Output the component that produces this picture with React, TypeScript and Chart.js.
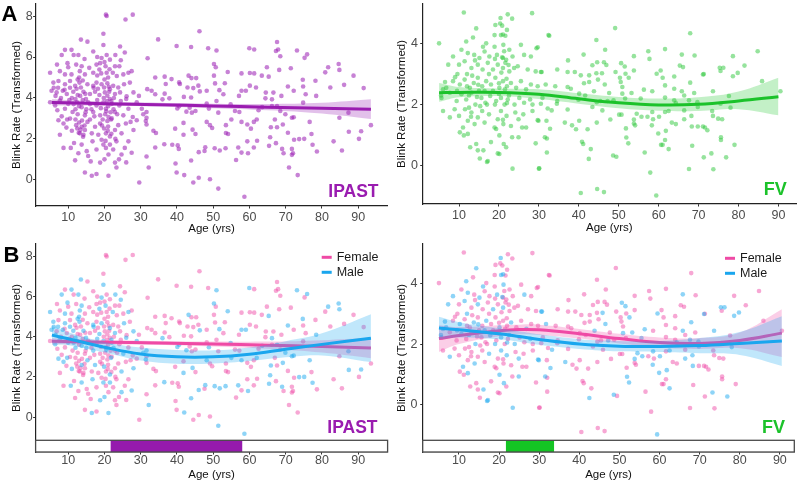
import { useEffect, useRef } from "react";
import { Chart, registerables } from "chart.js";
Chart.register(...registerables);

const FONT = "'Liberation Sans', Arial, Helvetica, sans-serif";

// ---------- labels / ticks ----------
const xTickValues = [10, 20, 30, 40, 50, 60, 70, 80, 90];
const ipastYTicks = [0, 2, 4, 6, 8];
const fvYTicks = [0, 2, 4];
const yTitle = "Blink Rate (Transformed)";
const xTitle = "Age (yrs)";
const sexLabels = ["Female", "Male"];
const ipastStrip = [21.7, 58];
const fvStrip = [21.7, 33.7];

// ---------- IPAST points [age, rate] ----------
const ipastFemale: number[][] = [
  [20.4, 8.07], [20.6, 8.0], [25.8, 7.83], [27.8, 8.07], [19.7, 7.14], [15.3, 6.75], [24.3, 6.51], [9.1, 6.35], [25.6, 6.22], [16.9, 6.27],
  [20.6, 6.1], [21.5, 5.87], [18.8, 5.7], [6.9, 5.63], [12.2, 5.63], [15.8, 5.47], [17.8, 5.63], [22.9, 5.55], [24.1, 5.55], [7.7, 5.31],
  [10.9, 5.15], [14.6, 5.15], [16.9, 5.23], [20.6, 5.23], [23.4, 5.07], [25.2, 5.15], [27.5, 5.31], [7.3, 4.83], [10.5, 4.83], [11.9, 4.59],
  [13.5, 4.51], [15.3, 4.67], [17.8, 4.75], [19.9, 4.51], [20.8, 4.72], [22.4, 4.59], [23.8, 4.51], [27.0, 4.75], [6.8, 4.27], [9.6, 4.19],
  [12.6, 4.14], [16.0, 4.19], [17.4, 4.3], [20.1, 4.27], [20.8, 4.11], [24.3, 4.27], [26.1, 4.08], [5.0, 3.79], [9.1, 3.47], [11.2, 3.31],
  [12.4, 3.79], [14.6, 3.15], [15.5, 3.79], [17.8, 3.63], [18.8, 3.15], [20.4, 3.47], [21.1, 3.07], [22.9, 3.31], [24.1, 3.63], [26.6, 3.47],
  [27.8, 3.07], [30.3, 3.47], [7.7, 2.2], [10.5, 2.99], [12.2, 2.67], [12.5, 2.51], [13.2, 2.27], [14.2, 2.2], [14.6, 2.43], [16.5, 2.27],
  [18.3, 2.2], [18.8, 2.75], [20.4, 2.27], [20.8, 2.87], [22.9, 2.43], [23.8, 2.67], [25.9, 2.75], [27.2, 2.83], [28.9, 2.91], [8.7, 1.56],
  [11.6, 1.8], [15.1, 1.4], [15.5, 1.16], [17.8, 1.48], [19.2, 1.96], [20.4, 1.56], [21.1, 1.24], [22.4, 1.48], [23.3, 1.88], [25.6, 1.56],
  [26.6, 1.88], [11.9, 0.95], [14.6, 0.36], [17.8, 0.28], [22.9, 0.84], [23.3, 0.6], [29.6, -0.13], [11.0, 4.0], [13.0, 3.6], [14.0, 3.9],
  [16.0, 3.7], [19.0, 3.5], [21.0, 3.6], [21.5, 3.95], [20.0, 4.9], [21.0, 5.0], [21.2, 4.55], [14.0, 4.85], [12.0, 2.95], [13.0, 2.8],
  [14.5, 2.65], [19.5, 2.95], [21.0, 2.6], [9.5, 2.55], [16.0, 2.95], [18.0, 5.1], [10.0, 5.5], [8.0, 4.0], [24.5, 3.85], [29.5, 4.1],
  [23.0, 2.0], [12.8, 1.3], [16.2, 0.9], [24.0, 1.0], [26.0, 0.85], [18.0, 6.0], [11.5, 6.1], [14.5, 5.9], [22.0, 3.0],
  [12.9, 2.3], [13.4, 2.45], [14.1, 2.1], [13.8, 2.9], [12.6, 3.2], [14.8, 3.3], [13.3, 4.1], [12.3, 4.45], [14.7, 4.2], [19.8, 4.0],
  [20.7, 3.85], [21.3, 4.3], [20.2, 3.2], [21.7, 3.3], [19.3, 2.65], [20.9, 2.4], [21.9, 2.25], [20.3, 1.9], [19.1, 5.2], [21.4, 5.4],
  [20.0, 5.75], [17.2, 3.1], [16.4, 3.45], [18.2, 4.45], [10.3, 3.9], [9.0, 4.4], [7.0, 3.4], [8.2, 3.1], [22.6, 4.0], [23.5, 3.2],
  [34.8, 6.86], [46.2, 7.26], [31.9, 5.94], [39.9, 6.54], [43.9, 6.49], [48.6, 6.43], [61.3, 6.37], [50.7, 5.5], [57.8, 5.2], [60.1, 5.22],
  [61.3, 5.2], [63.4, 5.09], [34.0, 5.0], [36.6, 5.04], [38.5, 4.92], [40.6, 4.76], [44.0, 4.97], [45.3, 4.97], [36.9, 4.68], [40.8, 4.68],
  [42.9, 4.51], [44.5, 4.48], [45.9, 4.6], [48.2, 4.35], [50.2, 5.09], [50.5, 4.71], [53.2, 4.72], [52.8, 4.18], [60.1, 4.6], [61.8, 4.51],
  [57.1, 4.1], [31.8, 4.43], [33.0, 4.35], [34.0, 4.18], [36.6, 4.21], [37.9, 3.98], [43.9, 4.02], [41.9, 4.05], [50.9, 3.85], [48.2, 3.72],
  [43.5, 3.52], [44.1, 3.28], [45.1, 3.36], [51.4, 3.28], [56.0, 3.36], [57.2, 3.31], [31.6, 3.03], [31.6, 2.7], [33.5, 2.4], [34.2, 2.29],
  [39.5, 2.5], [41.8, 2.78], [45.1, 2.24], [49.1, 2.67], [49.7, 2.53], [53.5, 2.67], [53.5, 2.29], [54.1, 2.24], [59.4, 2.7], [60.4, 2.5],
  [61.2, 2.83], [38.7, 1.71], [40.2, 1.68], [40.5, 1.51], [34.0, 1.58], [47.6, 1.41], [57.8, 1.33], [59.4, 1.88], [61.2, 1.58], [62.1, 1.91],
  [31.6, 1.14], [39.6, 0.8], [39.9, 0.36], [46.0, 0.1], [44.5, -0.13], [49.1, 0.03], [56.3, 0.97], [62.5, 3.4],
  [67.6, 6.73], [67.3, 6.29], [67.9, 6.37], [68.5, 6.04], [75.2, 5.96], [64.8, 5.5], [68.2, 5.37], [71.4, 5.45], [80.9, 5.25], [78.2, 4.84],
  [88.7, 5.09], [74.8, 4.56], [82.3, 4.51], [86.1, 4.64], [91.5, 4.48], [64.5, 4.26], [66.6, 4.26], [72.2, 4.35], [64.4, 3.98], [66.2, 3.6],
  [68.8, 4.1], [75.5, 4.18], [74.8, 3.77], [68.5, 3.36], [84.8, 3.03], [93.5, 2.67], [67.0, 2.95], [67.6, 2.57], [70.6, 2.3], [77.1, 2.24],
  [67.3, 1.79], [72.3, 1.96], [90.2, 2.0], [83.2, 1.88], [69.4, 1.3], [71.7, 1.51], [72.0, 1.3], [71.7, 1.22], [78.6, 1.38], [85.5, 1.43],
  [70.9, 0.6], [73.3, 0.23],
];
const ipastMale: number[][] = [
  [13.5, 6.85], [19.7, 6.59], [10.9, 6.35], [8.2, 6.1], [12.8, 6.1], [19.2, 5.95], [24.5, 5.84], [9.8, 5.7], [13.7, 5.55], [20.3, 5.55],
  [5.0, 5.23], [9.1, 5.15], [13.2, 5.31], [18.6, 5.39], [22.3, 5.23], [26.6, 5.23], [5.9, 4.75], [9.1, 4.67], [13.1, 4.75], [16.9, 4.59],
  [19.2, 4.67], [21.5, 4.43], [25.4, 4.67], [5.4, 4.35], [8.5, 4.35], [11.4, 4.3], [14.2, 4.3], [18.6, 4.14], [22.9, 4.19], [28.0, 4.27],
  [6.4, 3.63], [7.7, 3.87], [10.0, 3.71], [13.7, 3.55], [16.9, 3.31], [19.7, 3.79], [22.0, 3.71], [25.2, 3.15], [28.9, 3.79], [31.6, 3.31],
  [7.3, 2.91], [8.7, 2.75], [13.7, 2.59], [15.3, 2.83], [17.4, 2.59], [19.9, 2.51], [21.5, 2.12], [24.7, 2.27], [28.0, 2.43], [10.7, 1.56],
  [13.7, 1.72], [16.7, 1.88], [19.7, 1.72], [21.5, 1.72], [24.7, 1.24], [27.5, 1.32], [16.5, 0.2], [18.8, 0.84], [21.1, 0.2], [12.0, 3.95],
  [15.0, 3.45], [18.0, 3.9], [22.5, 3.45], [13.0, 5.0], [21.8, 2.95], [11.0, 2.4], [17.0, 4.5], [6.5, 4.1], [26.0, 3.95], [20.0, 1.0],
  [23.0, 6.1], [12.0, 3.45], [11.5, 3.7], [14.9, 3.95], [20.5, 3.35], [21.9, 3.85], [9.7, 2.95], [6.0, 4.5], [7.2, 4.5], [10.5, 4.5],
  [12.6, 4.9],
  [50.9, 6.32], [59.95, 6.43], [50.2, 5.66], [54.0, 5.27], [43.2, 5.09], [46.3, 4.32], [51.7, 4.38], [57.8, 4.35], [59.0, 4.35], [36.0, 3.93],
  [40.6, 3.6], [54.8, 3.69], [40.1, 3.49], [42.6, 3.33], [48.8, 3.48], [57.8, 2.83], [62.0, 2.95], [30.7, 3.2], [31.4, 2.87], [41.8, 2.2],
  [44.3, 2.45], [48.2, 2.83], [55.0, 2.95], [36.5, 1.74], [46.0, 1.35], [47.8, 1.59], [50.4, 1.54], [51.8, 1.43], [53.4, 1.54], [56.9, 1.58],
  [59.6, 1.3], [32.2, 0.6], [43.9, 0.94], [42.0, 0.23], [51.4, -0.43], [58.6, -0.83], [63.5, 3.55],
  [73.1, 6.32], [75.9, 6.13], [65.3, 5.04], [81.7, 5.5], [84.6, 5.66], [84.8, 5.37], [74.7, 4.89], [70.6, 4.56], [66.2, 3.93], [78.4, 4.1],
  [67.6, 3.6], [69.9, 3.2], [72.2, 3.06], [71.7, 3.03], [87.3, 3.28], [76.6, 2.83], [65.9, 2.57], [69.2, 2.7], [65.7, 2.08], [73.7, 1.99],
  [75.1, 2.0], [87.4, 2.35], [90.8, 2.37], [65.4, 1.66], [69.0, 1.51], [77.4, 1.71],
];

// ---------- FV points [age, rate] ----------
const fvFemale: number[][] = [
  [11.2, 5.02], [22.2, 4.96], [23.3, 4.82], [28.3, 5.0], [20.3, 4.66], [19.1, 4.61], [20.8, 4.59], [18.9, 4.28], [21.6, 4.26], [5.0, 4.01],
  [32.4, 4.28], [13.5, 4.2], [16.8, 4.01], [18.9, 3.9], [22.6, 3.8], [25.5, 3.96], [29.4, 3.85], [10.6, 3.8], [13.8, 3.63], [16.4, 3.74],
  [17.6, 3.58], [21.0, 3.53], [21.8, 3.47], [23.4, 3.58], [28.0, 3.58], [24.7, 3.26], [10.0, 3.31], [13.1, 3.2], [15.9, 3.15], [17.2, 3.37],
  [19.7, 3.31], [21.6, 3.37], [22.6, 3.09], [23.8, 3.2], [27.2, 3.15], [29.2, 3.09], [8.5, 2.77], [11.4, 2.82], [12.7, 2.55], [14.7, 2.88],
  [15.8, 2.6], [18.0, 2.66], [19.1, 2.88], [21.0, 2.77], [22.0, 2.6], [24.3, 2.55], [25.5, 2.77], [28.0, 2.66], [29.7, 2.6], [7.7, 2.39],
  [9.4, 2.12], [11.8, 2.17], [13.1, 2.39], [15.6, 2.22], [16.6, 2.06], [19.3, 2.12], [21.4, 2.0], [22.2, 2.17], [25.1, 2.22], [26.3, 2.06],
  [28.4, 2.0], [30.9, 2.22], [6.0, 1.79], [8.9, 1.85], [10.0, 1.63], [12.2, 1.47], [13.1, 1.74], [14.7, 1.58], [15.8, 1.79], [16.4, 1.41],
  [18.9, 1.25], [19.7, 1.52], [21.1, 1.36], [23.0, 1.3], [24.1, 1.74], [26.1, 1.68], [26.8, 1.25], [28.4, 1.79], [31.9, 1.47], [10.2, 1.09],
  [11.2, 0.99], [12.8, 0.6], [14.3, 0.71], [14.7, 0.5], [18.0, 0.77], [19.3, 1.2], [21.8, 0.6], [23.3, 0.93], [25.8, 1.25], [29.2, 0.73],
  [15.2, 0.23], [19.7, 0.4], [20.1, 0.38], [30.0, -0.1], [9.0, 2.9], [15.0, 2.45], [18.5, 2.45], [20.0, 2.35], [21.5, 2.5], [14.0, 3.45],
  [12.5, 1.9], [17.0, 2.0], [22.0, 4.45], [13.3, 2.95], [14.5, 2.25], [12.0, 2.6], [15.3, 1.95], [20.6, 3.05], [21.9, 2.85], [20.0, 2.7],
  [22.4, 3.3], [19.0, 3.5], [21.3, 3.75], [17.5, 3.0], [9.6, 3.0], [13.0, 1.6], [21.0, 1.5], [11.5, 1.85],
  [49.1, 4.51], [32.6, 4.26], [44.4, 4.12], [46.6, 3.8], [29.7, 3.88], [41.2, 3.64], [53.8, 3.59], [57.4, 3.75], [57.7, 3.5], [37.3, 3.45],
  [44.6, 3.39], [43.4, 3.29], [46.3, 3.39], [46.9, 3.3], [34.6, 3.15], [37.2, 3.07], [39.0, 3.07], [40.5, 2.96], [42.6, 2.96], [44.4, 3.03],
  [49.2, 3.07], [51.7, 3.01], [53.8, 3.12], [50.3, 2.88], [60.5, 3.12], [41.3, 2.7], [42.6, 2.74], [44.8, 2.82], [50.5, 2.74], [50.9, 2.58],
  [58.4, 2.44], [34.1, 2.6], [37.2, 2.58], [38.0, 2.52], [40.1, 2.36], [47.6, 2.38], [30.5, 2.03], [34.6, 2.12], [34.5, 2.03], [39.9, 2.16],
  [41.6, 2.3], [44.5, 2.08], [45.4, 2.12], [48.7, 2.14], [51.6, 2.2], [32.2, 1.87], [37.2, 1.84], [43.4, 1.92], [45.9, 1.81], [50.1, 1.67],
  [50.7, 1.67], [57.2, 1.6], [58.6, 1.52], [47.9, 1.51], [40.1, 1.47], [38.3, 1.32], [39.3, 1.19], [42.2, 1.19], [44.5, 1.41], [51.8, 1.22],
  [53.8, 1.38], [54.1, 1.32], [32.0, 0.89], [40.8, 0.78], [41.1, 0.71], [43.0, 0.54], [32.0, 0.43], [49.4, 0.29], [56.5, 0.43], [60.6, 0.68],
  [30.1, -0.09], [57.9, -0.23], [44.6, -0.77], [46.3, -0.87], [40.5, -0.9],
  [67.9, 4.34], [61.6, 3.82], [69.0, 3.61], [84.8, 3.75], [78.6, 3.59], [65.3, 3.28], [66.1, 3.23], [75.5, 3.1], [81.5, 3.28], [71.3, 3.0],
  [63.9, 2.92], [61.0, 2.88], [61.6, 2.63], [63.9, 2.52], [68.9, 2.38], [66.4, 2.3], [77.6, 2.28], [85.9, 2.77], [90.5, 2.44], [61.6, 2.23],
  [63.9, 2.14], [61.6, 1.76], [66.4, 1.81], [73.4, 1.79], [73.6, 1.63], [74.9, 1.54], [75.9, 1.52], [63.3, 1.41], [64.3, 1.36], [69.8, 1.28],
  [71.1, 1.28], [71.6, 1.25], [72.2, 1.16], [61.6, 0.84], [75.6, 0.93], [75.6, 0.84], [61.0, 0.68], [68.4, 0.65], [79.0, 0.68], [71.3, 0.27],
  [67.6, -0.11], [73.7, -0.12],
];
const fvMale: number[][] = [
  [20.4, 4.84], [14.3, 4.5], [20.5, 4.28], [11.8, 4.07], [21.1, 3.96], [8.5, 3.58], [12.2, 3.69], [15.1, 3.53], [19.5, 3.63], [26.3, 3.63],
  [7.3, 3.31], [11.4, 3.42], [14.7, 3.31], [18.5, 3.15], [21.0, 3.2], [30.5, 3.07], [6.5, 2.74], [6.8, 2.55], [10.2, 2.66], [13.7, 2.71],
  [16.8, 2.77], [20.1, 2.55], [23.0, 2.71], [26.8, 2.5], [31.7, 2.66], [5.6, 2.22], [10.6, 2.34], [14.1, 2.0], [17.8, 2.28], [20.5, 2.22],
  [23.9, 2.0], [27.8, 2.17], [7.7, 1.58], [11.0, 1.25], [13.9, 1.36], [17.5, 1.68], [20.5, 1.79], [21.9, 1.63], [24.9, 1.52], [29.9, 1.47],
  [12.2, 1.04], [16.1, 0.5], [20.1, 0.99], [21.2, 0.71], [24.9, 0.93], [31.5, 0.93], [17.0, 0.12], [17.2, 0.15], [23.4, -0.1], [6.0, 2.5],
  [5.5, 2.3], [12.0, 3.0], [22.5, 2.3], [16.0, 3.9], [19.0, 2.0], [21.0, 4.3], [14.8, 2.65], [12.5, 2.3], [16.4, 2.45], [22.0, 2.05],
  [20.8, 3.55], [9.5, 2.45],
  [50.6, 3.36], [51.5, 3.25], [45.8, 3.03], [52.5, 2.88], [59.5, 3.01], [30.7, 3.07], [46.5, 2.66], [56.3, 2.49], [43.8, 2.44], [50.9, 2.36],
  [53.2, 2.38], [47.2, 2.12], [55.5, 2.2], [33.2, 1.81], [54.5, 1.7], [55.7, 1.6], [58.4, 1.76], [60.1, 1.6], [53.8, 1.51], [36.5, 1.41],
  [58.3, 1.32], [59.9, 1.05], [32.8, 1.21], [29.7, 1.49], [51.9, 0.92], [52.4, 0.73], [48.6, 0.33], [42.5, 0.22], [59.4, -0.98],
  [65.8, 3.64], [75.3, 3.21], [76.2, 3.21], [79.8, 3.04], [78.6, 2.93], [71.1, 2.99], [67.9, 2.72], [65.8, 2.44], [73.6, 2.44], [64.3, 2.05],
  [67.6, 2.14], [69.7, 2.08], [75.5, 2.03], [78.0, 1.9], [69.8, 1.92], [62.5, 1.79], [66.4, 1.52], [68.2, 1.63], [68.3, 1.28], [61.8, 1.14],
  [62.5, 0.54], [73.2, 0.4], [76.9, 0.27],
];

// ---------- fitted curves and confidence bands ----------
const ipastFitAge = [5.5, 20, 35, 50, 65, 80, 93.5];
const ipastFitAll = [3.78, 3.72, 3.67, 3.61, 3.55, 3.5, 3.45];
const ipastFitAllHi = [3.93, 3.82, 3.76, 3.72, 3.7, 3.76, 3.93];
const ipastFitAllLo = [3.63, 3.62, 3.58, 3.5, 3.4, 3.24, 2.97];
const ipastFitFemale = [3.77, 3.73, 3.69, 3.64, 3.58, 3.52, 3.44];
const ipastFitFemaleHi = [3.92, 3.84, 3.79, 3.76, 3.76, 3.83, 3.95];
const ipastFitFemaleLo = [3.62, 3.62, 3.59, 3.52, 3.4, 3.21, 2.93];
const ipastMaleFitAge = [5.5, 10, 20, 30, 40, 50, 60, 70, 80, 93.5];
const ipastFitMale = [4.08, 3.9, 3.48, 3.14, 3.0, 3.0, 3.13, 3.38, 3.62, 3.93];
const ipastFitMaleHi = [4.55, 4.22, 3.74, 3.46, 3.34, 3.33, 3.47, 3.78, 4.17, 5.12];
const ipastFitMaleLo = [3.61, 3.58, 3.22, 2.82, 2.66, 2.67, 2.79, 2.98, 3.07, 2.74];

const fvFitAge = [5, 10, 20, 30, 40, 50, 60, 70, 80, 90];
const fvFitAll = [2.39, 2.4, 2.4, 2.34, 2.19, 2.06, 1.99, 2.01, 2.12, 2.26];
const fvFitAllHi = [2.71, 2.58, 2.53, 2.5, 2.37, 2.25, 2.2, 2.24, 2.43, 2.88];
const fvFitAllLo = [2.09, 2.24, 2.28, 2.18, 2.03, 1.88, 1.8, 1.79, 1.85, 1.65];
const fvSexFitAge = [5, 10, 20, 25, 30, 40, 50, 60, 70, 80, 90.5];
const fvFitFemale = [2.18, 2.28, 2.44, 2.48, 2.47, 2.34, 2.18, 2.05, 2.02, 2.12, 2.36];
const fvFitFemaleHi = [2.62, 2.56, 2.62, 2.64, 2.64, 2.5, 2.34, 2.22, 2.2, 2.38, 3.15];
const fvFitFemaleLo = [1.74, 2.0, 2.26, 2.32, 2.3, 2.18, 2.02, 1.88, 1.84, 1.86, 1.57];
const fvFitMale = [2.53, 2.47, 2.34, 2.25, 2.15, 2.0, 1.93, 1.92, 1.95, 2.02, 2.1];
const fvFitMaleHi = [2.9, 2.72, 2.52, 2.42, 2.32, 2.16, 2.1, 2.1, 2.2, 2.4, 2.92];
const fvFitMaleLo = [2.16, 2.22, 2.16, 2.08, 1.98, 1.84, 1.76, 1.74, 1.7, 1.64, 1.28];

// ---------- colours ----------
const PURPLE = "#9a1cb0";
const GREEN = "#1bc22a";
const PINK = "#ef4aa5";
const BLUE = "#1aa6ee";

const pts = (arr: number[][]) => arr.map(([x, y]) => ({ x, y }));
const curve = (xs: number[], ys: number[]) => xs.map((x, i) => ({ x, y: ys[i] }));

function scatterDs(data: any[], color: string, order: number) {
  return {
    type: "scatter",
    data,
    pointRadius: 2.3,
    pointBackgroundColor: color,
    pointBorderWidth: 0,
    pointBorderColor: "rgba(0,0,0,0)",
    showLine: false,
    order,
  };
}
function lineDs(data: any[], color: string, order: number) {
  return {
    type: "line",
    data,
    borderColor: color,
    borderWidth: 3,
    pointRadius: 0,
    tension: 0.4,
    fill: false,
    order,
  };
}
function bandDs(hi: any[], lo: any[], color: string, order: number) {
  return [
    { type: "line", data: hi, borderWidth: 0, borderColor: "rgba(0,0,0,0)", pointRadius: 0, tension: 0.4, fill: false, order },
    { type: "line", data: lo, borderWidth: 0, borderColor: "rgba(0,0,0,0)", pointRadius: 0, tension: 0.4, fill: "-1", backgroundColor: color, order },
  ];
}

type Panel = {
  left: number; top: number; width: number; height: number;
  pad: { left: number; right: number; top: number; bottom: number };
  yWidth: number; xHeight: number;
  xMin: number; xMax: number; yMin: number; yMax: number; yTicks: number[];
  xTickPad: number; yTickPad: number; yTitlePad: number; xTitlePad: number;
  datasets: any[];
  letter?: { text: string; x: number; y: number };
  label: { text: string; color: string; x: number; y: number; size: number };
  legend?: { x: number; y1: number; y2: number };
  strip?: { range: number[]; color: string };
};

const panels: Panel[] = [
  {
    left: 0, top: 0, width: 400, height: 240,
    pad: { left: 0, right: 12.4, top: 0, bottom: 0 }, yWidth: 35.6, xHeight: 34,
    xMin: 1.0, xMax: 98.1, yMin: -1.28, yMax: 8.59, yTicks: ipastYTicks,
    xTickPad: 2.7, yTickPad: 0.3, yTitlePad: 9.8, xTitlePad: 3.8,
    datasets: [
      lineDs(curve(ipastFitAge, ipastFitAll), PURPLE, 1),
      ...bandDs(curve(ipastFitAge, ipastFitAllHi), curve(ipastFitAge, ipastFitAllLo), "rgba(160,45,185,0.3)", 5),
      scatterDs(pts([...ipastFemale, ...ipastMale]), "rgba(158,40,182,0.58)", 10),
    ],
    letter: { text: "A", x: 1.5, y: 20.7 },
    label: { text: "IPAST", color: PURPLE, x: 378.5, y: 196.7, size: 17.5 },
  },
  {
    left: 392, top: 0, width: 408, height: 240,
    pad: { left: 0, right: 1.7, top: 2, bottom: 0 }, yWidth: 30.7, xHeight: 36,
    xMin: 0.9, xMax: 94.4, yMin: -1.26, yMax: 5.3, yTicks: fvYTicks,
    xTickPad: 3.25, yTickPad: 2.2, yTitlePad: 3.1, xTitlePad: 4.8,
    datasets: [
      lineDs(curve(fvFitAge, fvFitAll), GREEN, 1),
      ...bandDs(curve(fvFitAge, fvFitAllHi), curve(fvFitAge, fvFitAllLo), "rgba(40,200,55,0.28)", 5),
      scatterDs(pts([...fvFemale, ...fvMale]), "rgba(45,200,60,0.5)", 10),
    ],
    label: { text: "FV", color: GREEN, x: 394.7, y: 195, size: 18 },
  },
  {
    left: 0, top: 240, width: 400, height: 243,
    pad: { left: 0, right: 12.4, top: 2.5, bottom: 0 }, yWidth: 35.6, xHeight: 31,
    xMin: 1.0, xMax: 98.1, yMin: -1.74, yMax: 8.62, yTicks: ipastYTicks,
    xTickPad: -0.4, yTickPad: 0.3, yTitlePad: 9.8, xTitlePad: 1.1,
    datasets: [
      lineDs(curve(ipastMaleFitAge, ipastFitMale), BLUE, 1),
      ...bandDs(curve(ipastMaleFitAge, ipastFitMaleHi), curve(ipastMaleFitAge, ipastFitMaleLo), "rgba(30,170,240,0.28)", 2),
      lineDs(curve(ipastFitAge, ipastFitFemale), PINK, 3),
      ...bandDs(curve(ipastFitAge, ipastFitFemaleHi), curve(ipastFitAge, ipastFitFemaleLo), "rgba(240,80,170,0.28)", 4),
      scatterDs(pts(ipastMale), "rgba(30,170,240,0.5)", 9),
      scatterDs(pts(ipastFemale), "rgba(240,80,170,0.5)", 10),
    ],
    letter: { text: "B", x: 3.5, y: 21.7 },
    label: { text: "IPAST", color: PURPLE, x: 377.5, y: 193.3, size: 17.5 },
    legend: { x: 321.7, y1: 17.3, y2: 32.3 },
    strip: { range: ipastStrip, color: "#951aad" },
  },
  {
    left: 392, top: 240, width: 408, height: 243,
    pad: { left: 0, right: 5.7, top: 2, bottom: 0 }, yWidth: 30.7, xHeight: 31,
    xMin: 0.95, xMax: 93.6, yMin: -1.56, yMax: 5.3, yTicks: fvYTicks,
    xTickPad: -0.4, yTickPad: 2.8, yTitlePad: 3.1, xTitlePad: 1.1,
    datasets: [
      lineDs(curve(fvSexFitAge, fvFitMale), BLUE, 1),
      ...bandDs(curve(fvSexFitAge, fvFitMaleHi), curve(fvSexFitAge, fvFitMaleLo), "rgba(30,170,240,0.28)", 2),
      lineDs(curve(fvSexFitAge, fvFitFemale), PINK, 3),
      ...bandDs(curve(fvSexFitAge, fvFitFemaleHi), curve(fvSexFitAge, fvFitFemaleLo), "rgba(240,80,170,0.28)", 4),
      scatterDs(pts(fvMale), "rgba(30,170,240,0.5)", 9),
      scatterDs(pts(fvFemale), "rgba(240,80,170,0.5)", 10),
    ],
    label: { text: "FV", color: GREEN, x: 393, y: 192.7, size: 18 },
    legend: { x: 333, y1: 18.3, y2: 33.3 },
    strip: { range: fvStrip, color: "#14c424" },
  },
];

function annotPlugin(p: Panel) {
  return {
    id: "annot",
    afterDatasetsDraw(chart: any) {
      if (!p.strip) return;
      const { ctx, chartArea, scales } = chart;
      const b = chartArea.bottom;
      const t = b - 11.7;
      ctx.save();
      ctx.fillStyle = "#ffffff";
      ctx.fillRect(chartArea.left, t, chartArea.right - chartArea.left, b - t);
      const x0 = scales.x.getPixelForValue(p.strip.range[0]);
      const x1 = scales.x.getPixelForValue(p.strip.range[1]);
      ctx.fillStyle = p.strip.color;
      ctx.fillRect(x0, t, x1 - x0, b - t);
      ctx.strokeStyle = "#4a4a4a";
      ctx.lineWidth = 1.3;
      ctx.strokeRect(chartArea.left, t, chartArea.right - chartArea.left, b - t);
      ctx.restore();
    },
    afterDraw(chart: any) {
      const { ctx } = chart;
      ctx.save();
      if (p.letter) {
        ctx.fillStyle = "#000";
        ctx.font = `bold 22px ${FONT}`;
        ctx.textAlign = "left";
        ctx.textBaseline = "alphabetic";
        ctx.fillText(p.letter.text, p.letter.x, p.letter.y);
      }
      ctx.fillStyle = p.label.color;
      ctx.font = `bold ${p.label.size}px ${FONT}`;
      ctx.textAlign = "right";
      ctx.textBaseline = "alphabetic";
      ctx.fillText(p.label.text, p.label.x, p.label.y);
      if (p.legend) {
        const L = p.legend;
        const rows = [
          { y: L.y1, c: PINK, t: sexLabels[0] },
          { y: L.y2, c: BLUE, t: sexLabels[1] },
        ];
        for (const r of rows) {
          ctx.strokeStyle = r.c;
          ctx.lineWidth = 3;
          ctx.beginPath();
          ctx.moveTo(L.x, r.y);
          ctx.lineTo(L.x + 10, r.y);
          ctx.stroke();
          ctx.fillStyle = "#1a1a1a";
          ctx.font = `12.5px ${FONT}`;
          ctx.textAlign = "left";
          ctx.textBaseline = "middle";
          ctx.fillText(r.t, L.x + 15, r.y + 0.5);
        }
      }
      ctx.restore();
    },
  };
}

function makeChart(canvas: HTMLCanvasElement, p: Panel) {
  return new Chart(canvas, {
    type: "scatter",
    data: { datasets: p.datasets as any },
    options: {
      animation: false,
      responsive: false,
      maintainAspectRatio: false,
      devicePixelRatio: 1,
      layout: { padding: p.pad },
      plugins: { legend: { display: false }, tooltip: { enabled: false } },
      scales: {
        x: {
          type: "linear",
          min: p.xMin,
          max: p.xMax,
          afterBuildTicks: (s: any) => {
            s.ticks = xTickValues.map((v) => ({ value: v }));
          },
          afterFit: (s: any) => {
            s.height = p.xHeight;
            s.paddingLeft = 0;
            s.paddingRight = 0;
          },
          grid: { display: true, drawOnChartArea: false, drawTicks: true, tickLength: 2.5, color: "#333", tickColor: "#333", lineWidth: 1 },
          border: { display: true, color: "#222", width: 1.2 },
          ticks: {
            autoSkip: false,
            maxRotation: 0,
            padding: p.xTickPad,
            color: "#4d4d4d",
            font: { family: FONT, size: 12.5, lineHeight: 1 },
            callback: (v: any) => String(v),
          },
          title: { display: true, text: xTitle, color: "#111", font: { family: FONT, size: 11.5 }, padding: { top: 0, bottom: p.xTitlePad } },
        },
        y: {
          type: "linear",
          min: p.yMin,
          max: p.yMax,
          afterBuildTicks: (s: any) => {
            s.ticks = p.yTicks.map((v) => ({ value: v }));
          },
          afterFit: (s: any) => {
            s.width = p.yWidth;
            s.paddingTop = 0;
            s.paddingBottom = 0;
          },
          grid: { display: true, drawOnChartArea: false, drawTicks: true, tickLength: 2.5, color: "#333", tickColor: "#333", lineWidth: 1 },
          border: { display: true, color: "#222", width: 1.2 },
          ticks: {
            autoSkip: false,
            padding: p.yTickPad,
            color: "#4d4d4d",
            font: { family: FONT, size: 12.5, lineHeight: 1 },
            callback: (v: any) => String(v),
          },
          title: { display: true, text: yTitle, color: "#111", font: { family: FONT, size: 11.5 }, padding: { top: p.yTitlePad, bottom: 0 } },
        },
      },
    } as any,
    plugins: [annotPlugin(p)],
  });
}

export default function App() {
  const r0 = useRef<HTMLCanvasElement>(null);
  const r1 = useRef<HTMLCanvasElement>(null);
  const r2 = useRef<HTMLCanvasElement>(null);
  const r3 = useRef<HTMLCanvasElement>(null);
  const refs = [r0, r1, r2, r3];

  useEffect(() => {
    const charts = refs.map((r, i) => makeChart(r.current as HTMLCanvasElement, panels[i]));
    return () => charts.forEach((c) => c.destroy());
  }, []);

  return (
    <div style={{ position: "fixed", left: 0, top: 0, width: 800, height: 483, background: "#fff", overflow: "hidden" }}>
      {panels.map((p, i) => (
        <canvas
          key={i}
          ref={refs[i]}
          width={p.width}
          height={p.height}
          style={{ position: "absolute", left: p.left, top: p.top, width: p.width, height: p.height }}
        />
      ))}
    </div>
  );
}
